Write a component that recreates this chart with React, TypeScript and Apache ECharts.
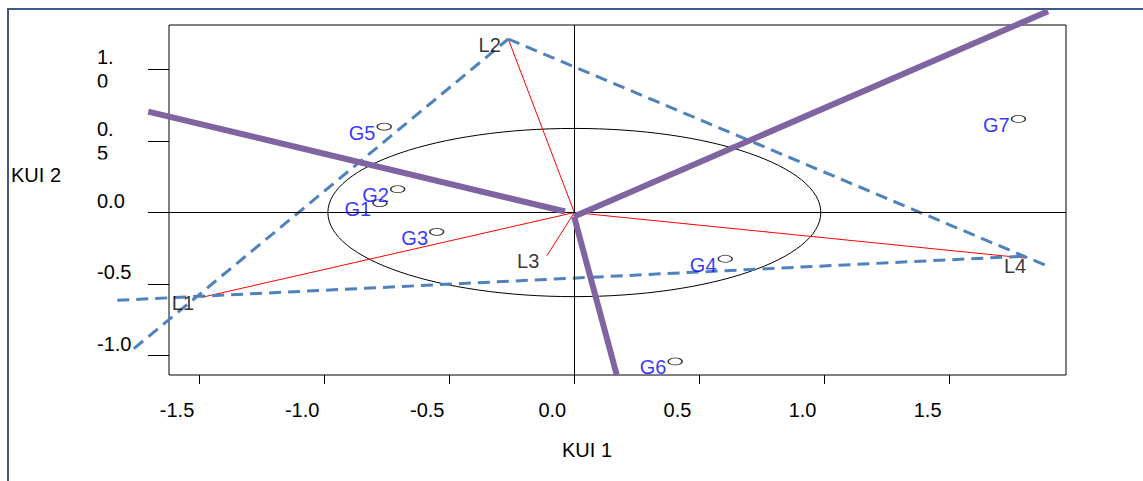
import React, { useEffect, useRef } from "react";
import * as echarts from "echarts";

// ---- axes ----
const X_RANGE = [-1.62, 1.965];
const Y_RANGE = [-1.135, 1.31];
const X_TICKS = [-1.5, -1.0, -0.5, 0.0, 0.5, 1.0, 1.5];
const X_TICK_LABELS = ["-1.5", "-1.0", "-0.5", "0.0", "0.5", "1.0", "1.5"];
const Y_TICKS = [-1.0, -0.5, 0.0, 0.5, 1.0];
const Y_TICK_LABELS = ["-1.0", "-0.5", "0.0", "0.\n5", "1.\n0"];
const X_TITLE = "KUI 1";
const Y_TITLE = "KUI 2";

// ---- environment vectors (L) ----
const L_NAMES = ["L1", "L2", "L3", "L4"];
const L_X = [-1.49, -0.264, -0.11, 1.802];
const L_Y = [-0.593, 1.212, -0.302, -0.318];

// ---- genotypes (G) ----
const G_NAMES = ["G1", "G2", "G3", "G4", "G5", "G6", "G7"];
const G_X = [-0.777, -0.706, -0.55, 0.603, -0.76, 0.403, 1.775];
const G_Y = [0.066, 0.163, -0.135, -0.323, 0.6, -1.04, 0.654];

// ---- dashed polygon sides (extended) ----
const DASHED_A = [[-1.7605, -0.951], [-0.264, 1.212]];
const DASHED_B = [[-0.264, 1.212], [1.895, -0.377]];
const DASHED_C = [[1.786, -0.306], [-1.836, -0.614]];

// ---- thick purple sector lines ----
const PURPLE_A = [[-1.703, 0.705], [-0.037, 0.007]];
const PURPLE_B = [[-0.001, -0.028], [1.893, 1.406]];
const PURPLE_C = [[-0.001, -0.028], [0.1695, -1.135]];

// ---- ellipse ----
const ELLIPSE_CENTER = [0, 0];
const ELLIPSE_RADII = [0.985, 0.5875];

const FONT = "'Liberation Sans', Arial, Helvetica, sans-serif";

export default function App() {
  const ref = useRef<HTMLDivElement>(null);

  useEffect(() => {
    document.body.style.margin = "0";
    const chart = echarts.init(ref.current!, null, { renderer: "svg" });

    const yLabelMap: Record<string, string> = {};
    Y_TICKS.forEach((v, i) => {
      const t = Y_TICK_LABELS[i];
      yLabelMap[v.toFixed(2)] = t.indexOf("\n") >= 0 ? t : t + "\n";
    });
    const xLabelMap: Record<string, string> = {};
    X_TICKS.forEach((v, i) => {
      xLabelMap[v.toFixed(2)] = X_TICK_LABELS[i];
    });

    const segSeries = (name: string, segs: number[][][], z: number, lineStyle: any) => ({
      type: "lines",
      name,
      coordinateSystem: "cartesian2d",
      polyline: false,
      clip: false,
      silent: true,
      z,
      effect: { show: false },
      symbol: ["none", "none"],
      lineStyle: { opacity: 1, curveness: 0, ...lineStyle },
      data: segs.map((s) => ({ coords: s })),
    });

    chart.setOption({
      animation: false,
      textStyle: { fontFamily: FONT },
      grid: {
        left: 169,
        top: 25,
        width: 897,
        height: 350,
        show: true,
        borderColor: "#000",
        borderWidth: 1,
        backgroundColor: "transparent",
      },
      xAxis: {
        type: "value",
        min: X_RANGE[0],
        max: X_RANGE[1],
        axisLine: { show: false, onZero: false },
        splitLine: { show: false },
        axisTick: {
          show: true,
          length: 9,
          customValues: X_TICKS,
          lineStyle: { color: "#000", width: 1 },
        },
        axisLabel: {
          customValues: X_TICKS,
          formatter: (v: number) => xLabelMap[v.toFixed(2)] ?? "",
          color: "#000",
          fontSize: 20,
          fontFamily: FONT,
          margin: 25,
          padding: [0, 44, 0, 0],
        },
      },
      yAxis: {
        type: "value",
        min: Y_RANGE[0],
        max: Y_RANGE[1],
        axisLine: { show: false, onZero: false },
        splitLine: { show: false },
        axisTick: {
          show: true,
          length: 21,
          customValues: Y_TICKS,
          lineStyle: { color: "#000", width: 1 },
        },
        axisLabel: {
          customValues: Y_TICKS,
          formatter: (v: number) => yLabelMap[v.toFixed(2)] ?? "",
          color: "#000",
          fontSize: 20,
          lineHeight: 24,
          fontFamily: FONT,
          align: "left",
          margin: 72,
        },
      },
      graphic: [
        {
          type: "rect",
          z: -10,
          silent: true,
          shape: { x: 8, y: 9, width: 1300, height: 700 },
          style: { fill: "none", stroke: "#3B5A8A", lineWidth: 2 },
        },
        {
          type: "rect",
          z: 100,
          silent: true,
          shape: { x: 88, y: 87.5, width: 50, height: 7 },
          style: { fill: "#fff" },
        },
        {
          type: "rect",
          z: 100,
          silent: true,
          shape: { x: 88, y: 159.5, width: 50, height: 7 },
          style: { fill: "#fff" },
        },
        {
          type: "text",
          x: 587,
          y: 450,
          silent: true,
          style: {
            text: X_TITLE,
            fill: "#000",
            font: `20px ${FONT}`,
            textAlign: "center",
            textVerticalAlign: "middle",
          },
        },
        {
          type: "text",
          x: 36,
          y: 175,
          silent: true,
          style: {
            text: Y_TITLE,
            fill: "#000",
            font: `20px ${FONT}`,
            textAlign: "center",
            textVerticalAlign: "middle",
          },
        },
      ],
      series: [
        {
          type: "line",
          name: "refLines",
          data: [[0, 0]],
          symbol: "none",
          silent: true,
          z: 1,
          lineStyle: { opacity: 0 },
          markLine: {
            silent: true,
            symbol: ["none", "none"],
            label: { show: false },
            lineStyle: { color: "#000", width: 1, type: "solid" },
            data: [{ yAxis: 0 }, { xAxis: 0 }],
          },
        },
        {
          type: "custom",
          name: "ellipse",
          data: [ELLIPSE_CENTER],
          silent: true,
          clip: false,
          z: 2,
          renderItem: (_p: any, api: any) => {
            const c = api.coord(ELLIPSE_CENTER);
            const e = api.coord([
              ELLIPSE_CENTER[0] + ELLIPSE_RADII[0],
              ELLIPSE_CENTER[1] + ELLIPSE_RADII[1],
            ]);
            return {
              type: "ellipse",
              shape: {
                cx: c[0],
                cy: c[1],
                rx: Math.abs(e[0] - c[0]),
                ry: Math.abs(e[1] - c[1]),
              },
              style: { fill: "none", stroke: "#000", lineWidth: 1 },
            };
          },
        },
        segSeries(
          "vectors",
          L_NAMES.map((_n, i) => [[0, 0], [L_X[i], L_Y[i]]]),
          3,
          { color: "#FF0000", width: 1 }
        ),
        segSeries("polygon", [DASHED_A, DASHED_B, DASHED_C], 4, {
          color: "#4F81BD",
          width: 3,
          type: [12, 7],
        }),
        segSeries("sectors", [PURPLE_A, PURPLE_B, PURPLE_C], 5, {
          color: "#8064A2",
          width: 6,
          cap: "butt",
        }),
        {
          type: "scatter",
          name: "L",
          data: L_NAMES.map((n, i) =>
            n === "L4"
              ? {
                  value: [L_X[i], L_Y[i]],
                  name: n,
                  label: { offset: [8.5, 8] },
                }
              : { value: [L_X[i], L_Y[i]], name: n }
          ),
          symbolSize: 1,
          silent: true,
          clip: false,
          z: 6,
          itemStyle: { color: "rgba(0,0,0,0)" },
          label: {
            show: true,
            formatter: (p: any) => p.name,
            position: "left",
            distance: 7,
            offset: [0, 5.5],
            color: "#000",
            fontSize: 20,
            fontFamily: FONT,
          },
        },
        {
          type: "scatter",
          name: "G",
          data: G_NAMES.map((n, i) => ({ value: [G_X[i], G_Y[i]], name: n })),
          symbol: "circle",
          symbolSize: [14, 7],
          silent: true,
          clip: false,
          z: 7,
          itemStyle: {
            color: "rgba(0,0,0,0)",
            borderColor: "#000",
            borderWidth: 1,
          },
          label: {
            show: true,
            formatter: (p: any) => p.name,
            position: "left",
            distance: 1,
            offset: [0, 6],
            color: "#0000FF",
            fontSize: 20,
            fontFamily: FONT,
          },
        },
      ],
    });

    return () => {
      chart.dispose();
    };
  }, []);

  return <div ref={ref} style={{ width: 1143, height: 481 }} />;
}
